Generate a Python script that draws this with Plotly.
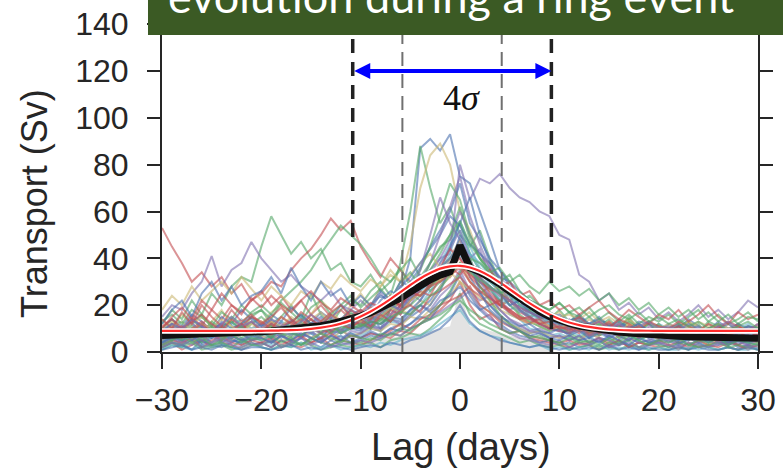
import plotly.graph_objects as go

# ---------------- data ----------------
lag_days = [-30, -29, -28, -27, -26, -25, -24, -23, -22, -21,
            -20, -19, -18, -17, -16, -15, -14, -13, -12, -11,
            -10, -9, -8, -7, -6, -5, -4, -3, -2, -1,
            0,
            1, 2, 3, 4, 5, 6, 7, 8, 9, 10,
            11, 12, 13, 14, 15, 16, 17, 18, 19, 20,
            21, 22, 23, 24, 25, 26, 27, 28, 29, 30]

blue_series = [
    [8,5,10,7,4,9,12,6,8,5, 7,10,6,9,12,8,5,11,9,14, 12,16,10,18,25,40,87,91,86,93, 75,
     72,60,48,35,30,22,18,14,10,12, 8,10,6,9,7,5,8,6,9,5, 7,4,8,6,5,9,6,4,7,5],
    [4,6,3,7,5,8,4,6,3,5, 6,4,7,5,3,6,8,5,7,4, 6,8,7,10,12,15,18,22,28,35, 45,
     32,25,20,16,12,10,8,9,6,7, 5,7,4,6,5,3,6,4,5,7, 4,6,3,5,7,4,5,3,6,4],
    [10,14,11,16,13,9,15,12,18,14, 11,16,13,19,15,12,17,14,20,16, 18,15,22,26,24,30,36,45,52,60, 72,
     55,48,40,35,28,24,20,18,15,16, 13,16,12,15,11,14,10,13,12,9, 12,10,14,11,9,13,10,12,8,11],
    [6,9,5,8,11,7,10,6,9,7, 8,6,10,7,12,9,6,11,8,10, 9,12,10,14,13,18,22,28,35,45, 55,
     66,50,38,30,24,18,15,12,10,9, 8,10,7,9,6,8,11,7,9,6, 8,5,7,9,6,8,5,7,9,6],
    [2,4,3,1,5,3,2,4,6,3, 4,2,5,3,6,4,2,5,3,4, 5,7,6,8,10,12,15,14,20,25, 33,
     24,18,14,12,9,7,6,4,5,3, 4,2,3,5,2,4,3,1,3,4, 2,3,1,4,2,3,5,2,3,1],
    [9,12,10,14,11,8,13,10,12,15, 11,14,10,13,16,12,15,11,14,18, 16,20,24,22,28,32,38,44,50,58, 54,
     46,42,38,32,30,26,22,20,17,15, 13,15,12,14,11,13,10,12,9,11, 10,12,9,11,8,10,12,9,11,10],
    [1,2,3,1,2,1,3,2,1,2, 2,1,2,3,1,2,1,3,2,1, 2,3,2,4,3,5,6,8,10,14, 20,
     13,9,7,5,4,3,2,3,2,1, 2,1,2,1,3,1,2,1,2,1, 1,2,1,2,1,1,2,1,2,1],
    [12,18,22,15,25,30,22,28,20,24, 26,32,25,36,28,22,30,24,27,20, 24,20,26,22,30,28,33,30,36,40, 46,
     38,32,28,25,20,22,17,15,14,12, 13,10,12,9,11,8,10,12,9,7, 9,11,8,10,7,9,6,8,10,7],
    [4,7,9,5,8,6,10,7,5,8, 9,6,11,8,7,10,12,9,8,11, 10,13,12,15,14,18,20,17,22,24, 28,
     22,18,20,15,13,11,12,9,8,10, 7,9,6,8,10,7,5,8,6,9, 7,5,8,6,9,7,4,6,8,5],
    [4,6,5,7,3,6,8,5,4,7, 6,4,7,5,8,6,4,7,5,8, 6,9,7,10,9,12,16,20,26,36, 50,
     38,26,18,14,11,9,7,8,6,5, 7,5,6,4,7,5,3,6,4,5, 6,4,5,7,4,6,3,5,4,6],
]

green_series = [
    [10,14,9,12,16,11,8,13,10,15, 18,12,15,20,14,25,16,12,18,22, 20,26,30,24,38,60,88,70,55,62, 50,
     45,52,40,30,26,20,22,16,14,18, 13,16,11,14,12,10,15,9,12,11, 9,12,10,8,13,11,9,12,8,10],
    [12,18,14,22,16,25,20,28,32,30, 45,58,50,42,47,40,44,35,38,30, 28,33,26,30,35,40,32,38,45,48, 55,
     42,35,30,26,22,25,18,20,16,14, 17,12,15,11,14,10,13,9,12,10, 8,11,9,12,7,10,8,11,9,7],
    [6,9,7,11,8,13,10,15,12,17, 20,16,22,26,30,35,42,48,54,50, 46,40,33,30,36,28,32,26,30,34, 45,
     36,30,27,22,25,20,18,15,17,13, 11,14,10,12,9,11,8,10,7,9, 7,10,8,6,9,7,5,8,6,7],
    [9,12,8,14,10,7,11,13,9,12, 15,11,9,13,16,12,10,14,11,17, 13,18,15,20,24,22,30,35,42,50, 62,
     48,40,35,28,26,20,17,14,16,12, 10,13,9,12,8,11,14,10,9,12, 8,11,13,9,10,12,8,10,11,9],
    [1,3,2,4,1,2,3,1,2,4, 2,1,3,2,4,3,1,2,3,2, 3,4,2,5,6,8,7,10,14,18, 25,
     16,12,10,8,6,4,5,3,2,3, 1,2,3,1,2,1,3,2,1,2, 1,2,1,3,2,1,2,1,2,1],
    [5,8,6,9,4,7,10,6,8,5, 7,10,8,6,9,12,8,11,9,13, 11,15,13,18,22,28,35,45,58,72, 65,
     50,40,32,26,20,16,13,11,9,10, 8,6,9,7,10,6,8,5,7,9, 6,8,5,7,9,6,4,7,5,6],
    [13,16,12,18,15,11,17,14,20,16, 18,14,21,17,13,19,22,16,20,24, 19,23,27,22,30,34,28,38,44,50, 56,
     46,40,35,30,33,26,22,20,18,21, 17,15,19,14,17,13,16,12,15,13, 16,12,15,18,13,16,12,14,17,13],
    [2,4,3,5,2,3,4,2,5,3, 3,5,2,4,3,6,4,3,5,4, 4,6,5,8,7,10,12,16,20,26, 34,
     40,28,22,16,12,9,7,6,5,4, 3,5,4,2,4,3,5,2,4,3, 2,4,3,2,3,4,2,3,2,4],
    [7,5,9,6,8,11,7,10,6,9, 8,11,7,10,13,9,12,8,11,10, 12,10,14,13,17,20,24,28,32,36, 42,
     40,38,34,36,30,33,28,25,30,26, 28,24,27,22,25,20,23,18,21,16, 19,15,18,14,17,13,16,12,15,14],
    [3,5,7,4,6,3,5,8,4,6, 5,7,4,6,3,5,8,6,4,7, 6,5,8,7,10,9,12,14,16,19, 22,
     18,15,12,10,8,9,6,7,5,4, 6,4,5,3,6,4,7,5,3,5, 4,6,3,5,4,6,3,5,4,3],
    [6,8,5,9,7,10,6,8,11,7, 9,6,10,8,7,11,9,12,8,10, 11,13,12,15,17,16,20,24,27,33, 38,
     34,31,28,25,27,22,24,20,18,21, 17,19,15,18,20,16,14,17,13,15, 12,14,11,13,10,12,9,11,13,10],
]

red_series = [
    [53,45,38,30,34,28,32,25,29,22, 26,20,24,18,22,16,20,15,18,14, 17,13,20,16,22,25,30,28,35,32, 38,
     30,25,28,20,22,17,15,12,14,10, 12,9,11,8,10,7,9,6,8,7, 5,8,6,4,7,5,6,3,5,4],
    [8,12,10,15,11,18,14,20,17,22, 25,30,28,35,40,44,50,57,52,56, 45,38,32,40,35,30,28,34,30,36, 40,
     32,28,24,20,22,18,15,17,13,12, 10,13,9,11,8,12,7,10,9,6, 8,5,9,7,10,6,8,5,7,6],
    [2,4,1,3,5,2,4,3,1,3, 4,2,5,3,2,4,6,3,5,4, 3,5,7,6,9,8,12,15,18,22, 30,
     20,14,16,10,8,9,6,5,4,3, 2,4,3,1,3,5,2,4,3,2, 3,1,4,2,3,5,2,1,3,2],
    [8,11,7,10,13,9,6,10,12,8, 10,13,9,7,11,14,10,8,12,15, 11,14,18,15,20,24,28,32,36,44, 40,
     34,28,23,20,17,14,12,15,11,9, 10,8,11,7,9,12,8,10,7,9, 8,10,7,9,6,8,10,7,5,8],
    [3,5,4,6,2,5,7,4,3,5, 4,6,3,5,7,4,6,8,5,7, 6,8,7,9,12,10,14,16,20,22, 24,
     28,20,17,13,11,9,7,6,5,4, 5,3,4,6,3,5,2,4,3,5, 3,4,2,5,3,2,4,3,1,3],
    [6,9,11,7,10,8,5,9,12,8, 10,7,11,13,9,12,8,10,14,11, 13,10,15,18,16,22,26,24,32,38, 44,
     36,32,25,21,18,15,12,14,10,9, 8,11,7,9,12,8,10,6,9,7, 10,7,9,6,8,11,7,9,6,8],
    [11,14,10,13,16,12,9,14,11,15, 13,10,15,12,17,14,11,16,13,18, 15,19,17,22,20,25,24,29,32,35, 37,
     33,30,27,25,22,19,17,15,16,14, 12,15,11,13,10,14,12,9,13,11, 10,13,11,9,12,10,13,11,9,12],
    [14,10,17,12,20,15,11,18,13,16, 12,15,19,14,11,16,13,17,20,15, 18,14,20,24,19,26,30,28,34,36, 33,
     38,32,35,28,30,24,26,20,22,18, 20,16,19,22,17,14,18,15,12,16, 14,18,13,16,20,15,12,17,14,16],
    [7,10,6,9,12,8,11,7,10,13, 9,12,8,11,14,10,13,9,12,10, 14,11,16,13,18,20,17,24,26,29, 32,
     27,24,20,22,17,14,15,12,10,11, 9,12,8,10,13,9,11,8,10,7, 9,11,8,6,10,7,9,11,8,10],
    [10,15,19,14,22,18,25,20,16,23, 19,24,20,17,22,26,21,18,23,20, 17,21,19,23,20,26,24,28,30,33, 36,
     30,26,23,20,18,15,14,12,13,10, 11,9,12,8,10,7,9,11,8,6, 8,7,9,6,8,5,7,9,6,8],
]

purple_series = [
    [5,8,4,10,7,12,9,6,11,8, 10,7,13,9,6,11,8,14,10,12, 15,11,18,22,16,25,28,35,40,42, 80,
     65,74,72,76,70,66,64,60,58,50, 48,33,30,22,25,18,21,16,19,14, 17,13,16,20,15,18,14,17,22,19],
    [15,20,18,25,30,41,28,35,38,47, 40,35,30,33,28,25,22,26,20,18, 22,18,25,20,28,24,30,35,32,40, 48,
     38,30,26,22,18,20,15,17,13,11, 14,10,12,9,11,8,10,7,9,8, 6,9,7,10,8,11,9,12,10,8],
    [7,10,6,9,12,8,5,9,11,7, 9,12,8,10,6,11,14,9,12,10, 11,14,17,13,20,25,22,30,38,44, 52,
     40,44,32,25,20,22,15,13,10,11, 9,12,8,10,7,11,9,6,10,8, 9,7,11,8,6,10,8,12,9,7],
    [4,7,5,3,6,8,4,7,5,6, 7,5,8,4,6,9,5,7,10,6, 8,11,9,14,12,16,20,18,24,28, 35,
     26,22,24,18,14,12,9,10,8,6, 7,5,8,6,4,7,5,8,6,4, 6,4,7,5,8,4,6,5,3,6],
    [8,11,9,13,7,10,12,8,11,9, 12,9,11,14,10,8,12,15,11,13, 12,16,14,19,23,20,27,33,40,48, 60,
     50,42,36,32,27,22,20,16,14,12, 10,13,9,11,8,12,10,7,11,9, 8,11,9,7,10,12,9,8,11,10],
    [5,8,6,9,7,4,8,6,10,7, 9,6,8,11,7,10,8,12,9,11, 10,13,12,16,20,24,30,38,50,62, 75,
     58,46,36,28,22,18,14,12,10,9, 8,10,7,9,6,8,10,7,9,6, 8,6,9,7,5,8,6,9,7,5],
    [3,6,4,7,5,3,6,4,8,5, 6,4,7,5,8,6,4,7,5,9, 8,11,10,14,18,25,35,50,66,55, 48,
     40,30,24,18,14,11,9,8,6,7, 5,7,4,6,5,3,6,4,5,3, 5,3,6,4,5,3,4,6,3,5],
    [2,4,3,5,2,4,6,3,2,4, 3,5,2,4,6,3,5,2,4,3, 5,4,6,8,7,10,12,14,17,20, 23,
     26,19,15,11,8,6,5,4,3,5, 2,4,3,5,2,3,4,2,3,4, 3,2,4,3,2,4,3,5,2,3],
    [9,12,10,14,11,8,12,15,11,13, 10,14,12,9,13,16,12,10,14,11, 15,13,17,20,18,23,27,30,35,38, 42,
     36,31,28,24,22,19,17,15,16,13, 12,14,11,13,10,12,9,11,13,10, 11,9,12,10,8,11,13,10,9,12],
]

yellow_series = [
    [14,10,16,12,8,13,18,11,9,15, 12,17,20,14,10,16,22,18,13,20, 25,19,28,33,30,46,70,84,89,80, 60,
     52,40,38,27,22,25,18,20,15,17, 12,15,10,14,11,9,13,10,12,8, 11,9,13,8,10,12,7,9,11,8],
    [5,8,4,7,10,6,9,5,8,6, 8,11,7,9,6,10,8,12,9,14, 12,10,15,13,18,16,22,20,28,32, 38,
     30,26,22,18,24,15,13,11,9,12, 8,10,7,9,11,6,8,10,7,9, 6,8,10,7,9,5,8,6,9,7],
    [10,13,9,12,15,11,8,14,12,10, 13,10,15,12,9,14,17,13,11,16, 14,18,16,21,25,22,28,34,30,40, 48,
     36,30,26,28,22,18,15,17,13,14, 12,10,14,11,13,9,12,10,13,11, 9,12,10,13,11,8,12,10,9,11],
    [4,6,8,5,7,4,6,9,5,7, 6,8,5,7,10,6,8,5,9,7, 8,10,9,12,11,15,14,18,20,24, 30,
     25,20,17,14,12,10,8,9,7,6, 7,5,8,6,4,7,5,6,8,5, 6,4,7,5,3,6,4,7,5,4],
    [18,24,20,28,22,26,30,25,32,27, 22,28,24,20,26,23,30,27,33,29, 26,31,28,35,30,33,38,42,36,40, 44,
     36,32,28,24,26,22,19,20,17,15, 16,14,17,13,15,12,14,11,13,10, 12,10,13,11,9,12,10,11,9,10],
    [8,11,13,9,12,10,14,11,8,12, 10,13,11,15,12,9,13,16,12,14, 13,16,15,19,17,22,25,28,31,34, 30,
     27,23,21,18,16,14,12,13,11,10, 12,9,11,13,10,8,12,10,9,11, 10,8,11,9,12,10,8,11,9,10],
]

cyan_series = [
    [3,5,2,6,4,7,3,5,4,6, 5,3,7,4,6,8,5,9,6,8, 7,10,9,13,12,17,20,26,34,42, 56,
     45,36,28,22,16,14,10,9,7,8, 6,5,7,4,6,3,5,7,4,6, 5,3,6,4,2,5,3,6,4,3],
    [7,10,8,12,9,6,11,8,10,13, 9,12,10,7,11,14,10,13,9,12, 14,12,17,20,18,25,30,28,38,46, 52,
     42,35,30,26,22,18,15,16,12,10, 11,9,12,8,10,13,9,11,8,10, 7,10,12,8,9,11,7,10,8,9],
    [8,11,13,9,12,10,7,11,14,10, 12,9,13,11,15,10,13,16,12,14, 13,16,15,20,18,23,26,30,34,38, 41,
     35,30,27,23,20,17,19,15,13,12, 10,13,11,9,12,10,8,11,9,12, 10,8,11,9,12,10,8,10,12,9],
    [4,7,5,8,6,9,5,7,10,6, 8,6,9,7,11,8,12,9,13,10, 14,12,16,19,17,22,26,30,36,40, 45,
     42,38,32,28,24,20,16,14,12,10, 9,7,10,8,6,9,7,5,8,6, 7,5,8,6,4,7,5,6,4,6],
    [1,3,2,1,3,2,4,2,1,3, 2,1,3,2,4,1,2,3,1,2, 3,2,4,3,5,6,7,9,12,15, 18,
     12,9,7,6,4,3,2,3,1,2, 1,2,1,3,1,2,1,2,1,2, 1,1,2,1,2,1,2,1,1,2],
]

mean_transport = [7.0,7.1,7.2,7.3,7.5,7.6,7.8,8.0,8.2,8.4,
                  8.7,9.0,9.3,9.7,10.1,10.6,11.2,12.0,12.9,14.0,
                  15.3,16.8,18.6,20.7,23.0,25.6,28.3,30.8,32.8,34.3,
                  45.5,
                  36.0,34.2,31.8,29.0,25.9,22.8,19.9,17.3,15.2,13.5,
                  12.2,11.1,10.3,9.6,9.0,8.5,8.1,7.7,7.4,7.1,
                  6.9,6.7,6.5,6.4,6.3,6.2,6.1,6.0,6.0,5.9]

gaussian_fit = [9.0,9.0,9.0,9.0,9.0,9.0,9.0,9.0,9.0,9.0,
                9.06,9.1,9.2,9.3,9.5,9.9,10.4,11.1,12.1,13.5,
                15.2,17.3,19.8,22.6,25.6,28.6,31.4,33.7,35.6,36.6,
                36.8,
                36.1,34.6,32.4,29.7,26.8,23.8,20.9,18.3,16.0,14.1,
                12.6,11.5,10.7,10.1,9.7,9.4,9.2,9.1,9.07,9.04,
                9.0,9.0,9.0,9.0,9.0,9.0,9.0,9.0,9.0,9.0]

shade_days = [-10.8, -10, -9, -8, -7, -6, -5, -4, -3, -2, -1, 0,
              1, 2, 3, 4, 5, 6, 7, 8, 9, 9.2]
shade_values = [4, 5, 5, 6, 6, 7, 8, 8, 9, 10, 11, 27,
                11, 10, 9, 8, 7, 6, 5, 5, 4, 4]

two_sigma_edges = [-10.8, 9.2]
one_sigma_edges = [-5.8, 4.2]
arrow_level = 120
sigma_label = "4<i>σ</i>"
title_text = "evolution during a ring event"
x_title = "Lag (days)"
y_title = "Transport (Sv)"

y_ticks = [0, 20, 40, 60, 80, 100, 120, 140]
x_ticks = [-30, -20, -10, 0, 10, 20, 30]

palette = {"blue": "#4C72B0", "green": "#55A868", "red": "#C44E52",
           "purple": "#8172B2", "yellow": "#CCB974", "cyan": "#64B5CD"}

# ---------------- figure ----------------
fig = go.Figure()

fig.add_trace(go.Scatter(x=shade_days, y=shade_values, mode="lines",
                         line=dict(width=0), fill="tozeroy",
                         fillcolor="#e3e3e3", hoverinfo="skip",
                         showlegend=False))

groups = [("blue", blue_series), ("green", green_series), ("red", red_series),
          ("purple", purple_series), ("yellow", yellow_series),
          ("cyan", cyan_series)]
max_len = max(len(g[1]) for g in groups)
for i in range(max_len):
    for name, series in groups:
        if i < len(series):
            fig.add_trace(go.Scatter(x=lag_days, y=series[i], mode="lines",
                                     line=dict(color=palette[name], width=2),
                                     opacity=0.6, hoverinfo="skip",
                                     showlegend=False))

fig.add_trace(go.Scatter(x=lag_days, y=mean_transport, mode="lines",
                         line=dict(color="#111111", width=7),
                         showlegend=False))
fig.add_trace(go.Scatter(x=lag_days, y=gaussian_fit, mode="lines",
                         line=dict(color="white", width=5.5, shape="spline"),
                         showlegend=False))
fig.add_trace(go.Scatter(x=lag_days, y=gaussian_fit, mode="lines",
                         line=dict(color="#ff2a2a", width=2.2, shape="spline"),
                         showlegend=False))

shapes = []
for xv in two_sigma_edges:
    shapes.append(dict(type="line", xref="x", yref="paper", x0=xv, x1=xv,
                       y0=0, y1=1, layer="above",
                       line=dict(color="#222222", width=3.5, dash="14px,9px")))
for xv in one_sigma_edges:
    shapes.append(dict(type="line", xref="x", yref="paper", x0=xv, x1=xv,
                       y0=0, y1=1, layer="above",
                       line=dict(color="#707070", width=2, dash="14px,8px")))
# green title banner
shapes.append(dict(type="rect", xref="paper", yref="paper",
                   x0=-0.0235, x1=1.06, y0=0.9324, y1=1.06,
                   fillcolor="#3B5A24", line=dict(width=0), layer="above"))

axis_color = "#262626"
annotations = [
    dict(x=two_sigma_edges[1], y=arrow_level, ax=two_sigma_edges[0], ay=arrow_level,
         xref="x", yref="y", axref="x", ayref="y", text="", showarrow=True,
         arrowhead=2, arrowside="end+start", arrowsize=0.8, arrowwidth=4,
         arrowcolor="#0000ff", standoff=0, startstandoff=0),
    dict(x=0.2, y=108.5, xref="x", yref="y", text=sigma_label, showarrow=False,
         font=dict(family="Liberation Serif, DejaVu Serif, serif", size=36,
                   color="#111111")),
    dict(x=0.485, y=1.046, xref="paper", yref="paper", text=title_text,
         showarrow=False, xanchor="center", yanchor="middle",
         font=dict(family="Lato, Open Sans, sans-serif", size=45, color="white")),
    dict(x=-0.215, y=0.438, xref="paper", yref="paper", text=y_title,
         showarrow=False, textangle=-90, xanchor="center", yanchor="middle",
         font=dict(size=36, color=axis_color)),
    dict(x=0.502, y=-0.279, xref="paper", yref="paper", text=x_title,
         showarrow=False, xanchor="center", yanchor="middle",
         font=dict(size=38, color=axis_color)),
]

fig.update_layout(
    width=783, height=469,
    margin=dict(l=162, r=25, t=12, b=117, autoexpand=False),
    paper_bgcolor="white", plot_bgcolor="white",
    showlegend=False,
    shapes=shapes, annotations=annotations,
    font=dict(family="Liberation Sans, Arial, sans-serif", color=axis_color),
)
fig.update_xaxes(range=[-30, 30], tickvals=x_ticks, ticks="outside",
                 ticklen=15, tickwidth=2, tickcolor=axis_color,
                 showline=True, linewidth=2, linecolor=axis_color,
                 mirror="ticks", showgrid=False, zeroline=False,
                 tickfont=dict(size=32), ticklabelstandoff=4, automargin=False)
fig.update_yaxes(range=[0, 145.2], tickvals=y_ticks, ticks="outside",
                 ticklen=13, tickwidth=2, tickcolor=axis_color,
                 showline=True, linewidth=2, linecolor=axis_color,
                 mirror="ticks", showgrid=False, zeroline=False,
                 tickfont=dict(size=32), ticklabelstandoff=12, automargin=False)

fig.write_html("out.html", config={"displayModeBar": False},
               post_script="document.body.style.margin='0';document.body.style.overflow='hidden';")
